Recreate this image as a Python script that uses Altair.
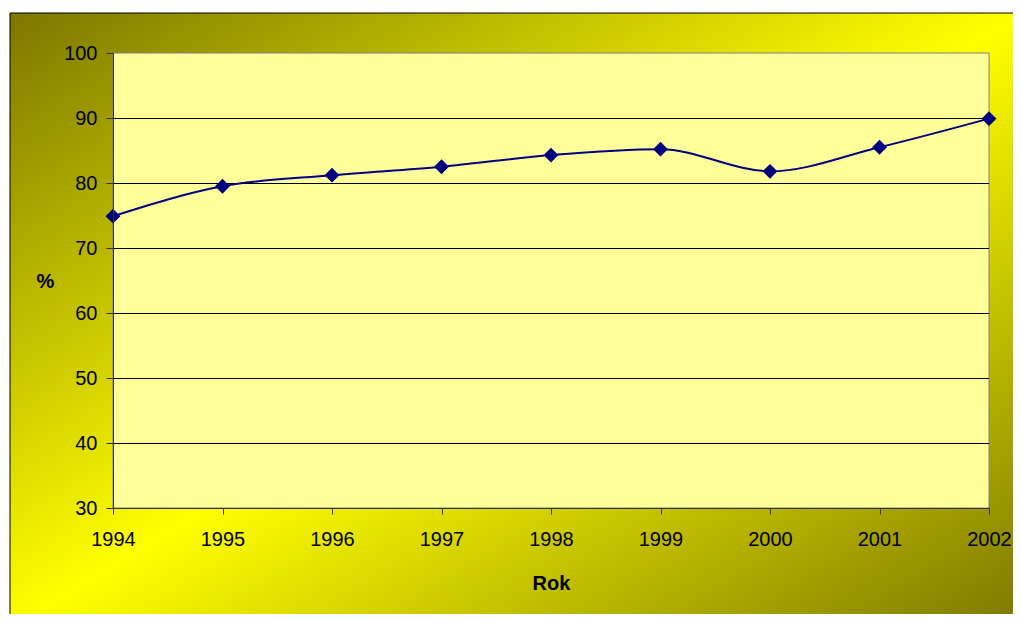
import altair as alt
import pandas as pd

years = [1994, 1995, 1996, 1997, 1998, 1999, 2000, 2001, 2002]
values = [74.9, 79.5, 81.2, 82.5, 84.3, 85.2, 81.8, 85.5, 89.9]
y_ticks = [30, 40, 50, 60, 70, 80, 90, 100]
grid_vals = [40, 50, 60, 70, 80, 90]

W, H = 876, 455
FONT = "Liberation Sans"

df = pd.DataFrame({"Rok": years, "pct": values})
grid_df = pd.DataFrame({"g": grid_vals})
one = pd.DataFrame({"k": [0]})

xscale = alt.Scale(domain=[1994, 2002], nice=False, zero=False)
yscale = alt.Scale(domain=[30, 100], nice=False, zero=False)

grad = alt.LinearGradient(
    gradient="linear",
    stops=[
        alt.GradientStop(offset=0, color="#7c7700"),
        alt.GradientStop(offset=0.5, color="#ffff00"),
        alt.GradientStop(offset=1, color="#7c7700"),
    ],
    x1=0, y1=0, x2=1, y2=1,
)

bg = alt.Chart(one).mark_rect(fill=grad, stroke="black", strokeWidth=1).encode(
    x=alt.value(-103), x2=alt.value(911), y=alt.value(-40), y2=alt.value(575)
)

plot_bg = alt.Chart(one).mark_rect(fill="#ffff99", stroke="#808080", strokeWidth=1).encode(
    x=alt.value(0), x2=alt.value(W), y=alt.value(0), y2=alt.value(H)
)

xaxis = alt.Axis(
    values=years, format="d", title="Rok", grid=False,
    labelFont=FONT, labelFontSize=20, labelColor="black",
    labelBaseline="middle", labelPadding=25, labelFlush=False,
    tickSize=6, tickColor="#333333", domainColor="#333333",
    titleFont=FONT, titleFontSize=20, titleFontWeight="bold", titleColor="black",
    titleBaseline="middle", titleY=75, zindex=1,
)
yaxis = alt.Axis(
    values=y_ticks, title="%", grid=False,
    labelFont=FONT, labelFontSize=20, labelColor="black",
    labelBaseline="middle", labelPadding=9,
    tickSize=7, tickColor="#333333", domainColor="#333333",
    titleFont=FONT, titleFontSize=20, titleFontWeight="bold", titleColor="black",
    titleAngle=0, titleAlign="center", titleBaseline="middle",
    titleX=-68, titleY=228, zindex=1,
)

grid = alt.Chart(grid_df).mark_rule(color="black", strokeWidth=1, yOffset=0.5).encode(
    y=alt.Y("g:Q", scale=yscale, axis=yaxis),
    x=alt.value(0), x2=alt.value(W),
)

line = alt.Chart(df).mark_line(color="#000080", strokeWidth=2, interpolate="monotone").encode(
    x=alt.X("Rok:Q", scale=xscale, axis=xaxis),
    y=alt.Y("pct:Q", scale=yscale, axis=yaxis),
)
pts = alt.Chart(df).mark_point(shape="diamond", filled=True, size=220, color="#000080", opacity=1).encode(
    x=alt.X("Rok:Q", scale=xscale, axis=xaxis),
    y=alt.Y("pct:Q", scale=yscale, axis=yaxis),
)

chart = alt.layer(bg, plot_bg, grid, line, pts).properties(
    width=W, height=H,
    autosize=alt.AutoSizeParams(type="none"),
    padding={"left": 105, "top": 45, "right": 24, "bottom": 106},
).configure_view(stroke=None)

chart.save("out.html", embed_options={"renderer": "svg", "actions": False})
